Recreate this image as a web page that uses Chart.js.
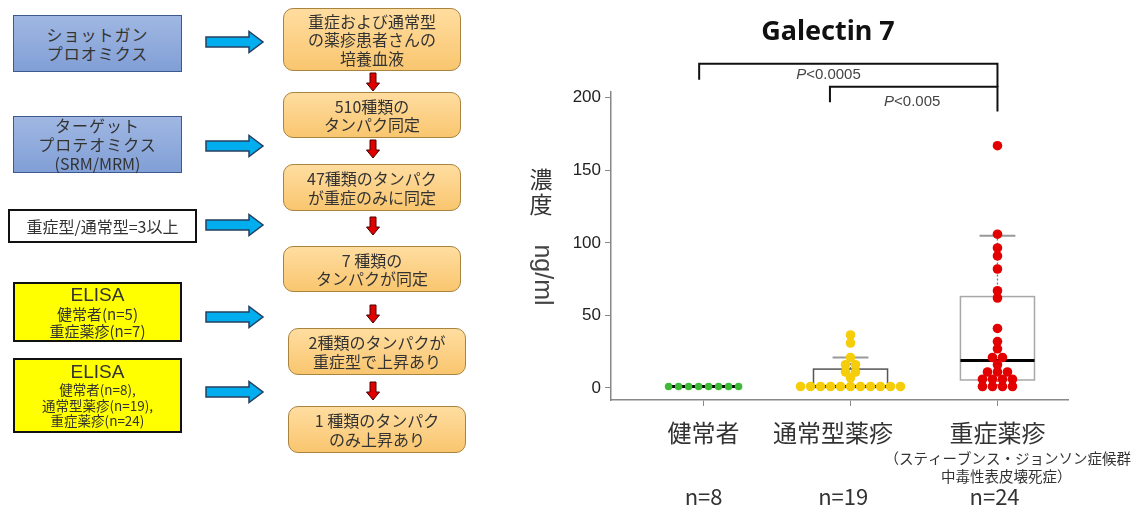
<!DOCTYPE html>
<html>
<head>
<meta charset="utf-8">
<script src="https://cdn.jsdelivr.net/npm/chart.js@4.4.1/dist/chart.umd.min.js"></script>
<style>
    body { margin: 0; background: #fff; width: 1134px; height: 509px; overflow: hidden; position: relative; font-family: 'Noto Sans CJK JP', sans-serif; }
    #myChart { position: absolute; left: 0; top: 0; }
    #arrows { position: absolute; left: 0; top: 0; z-index: 2; }
    .box { position: absolute; box-sizing: border-box; display: flex; flex-direction: column; align-items: center; justify-content: center; text-align: center; color: #333; white-space: nowrap; z-index: 3; }
    .blue { background: linear-gradient(#a0b7e2, #819fd6); border: 1.5px solid #3c5a8e; font-size: 16px; line-height: 19px; letter-spacing: 1px; }
    .orange { background: linear-gradient(#ffdda0, #f9c66f); border: 1.5px solid #a9843f; border-radius: 10px; font-size: 16px; line-height: 18.5px; }
    .white { background: #fff; border: 2px solid #111; font-size: 16px; }
    .yellow { background: #ffff00; border: 2px solid #111; }
    .elisa { font-family: 'Liberation Sans', sans-serif; font-size: 19px; line-height: 20px; }
</style>
</head>
<body>
<canvas id="myChart" width="1134" height="509"></canvas>

<!-- left flow chart -->
<div class="box blue" style="left:13px;top:15px;width:169px;height:57px;">ショットガン<br>プロオミクス</div>
<div class="box blue" style="left:13px;top:116px;width:169px;height:57px;">ターゲット<br>プロテオミクス<br><span style="letter-spacing:0">(SRM/MRM)</span></div>
<div class="box white" style="left:8px;top:209px;width:189px;height:34px;">重症型/通常型=3以上</div>
<div class="box yellow" style="left:13px;top:282px;width:169px;height:60px;font-size:15px;line-height:17px;"><span class="elisa">ELISA</span>健常者(n=5)<br>重症薬疹(n=7)</div>
<div class="box yellow" style="left:13px;top:358px;width:169px;height:75px;font-size:13.5px;line-height:15.5px;"><span class="elisa">ELISA</span>健常者(n=8),<br>通常型薬疹(n=19),<br>重症薬疹(n=24)</div>

<div class="box orange" style="left:283px;top:8px;width:178px;height:63px;">重症および通常型<br>の薬疹患者さんの<br>培養血液</div>
<div class="box orange" style="left:283px;top:92px;width:178px;height:46px;">510種類の<br>タンパク同定</div>
<div class="box orange" style="left:283px;top:164px;width:178px;height:47px;">47種類のタンパク<br>が重症のみに同定</div>
<div class="box orange" style="left:283px;top:246px;width:178px;height:46px;">7 種類の<br>タンパクが同定</div>
<div class="box orange" style="left:288px;top:328px;width:178px;height:47px;">2種類のタンパクが<br>重症型で上昇あり</div>
<div class="box orange" style="left:288px;top:406px;width:178px;height:47px;">1 種類のタンパク<br>のみ上昇あり</div>

<svg id="arrows" width="480" height="509"></svg>

<script>
    // ---- data ----
    const categories = ['健常者', '通常型薬疹', '重症薬疹'];
    const subLabel = ['（スティーブンス・ジョンソン症候群', '中毒性表皮壊死症）'];
    const nLabels = ['n=8', 'n=19', 'n=24'];

    const healthy = [1, 1, 1, 1, 1, 1, 1, 1];
    const normalRash = [36.5, 31, 21, 16, 16, 11, 11, 7, 1, 1, 1, 1, 1, 1, 1, 1, 1, 1, 1];
    const severeRash = [167, 106, 96.5, 91, 82, 67, 62, 41, 32, 27, 21, 21, 16, 11, 11, 11, 6, 6, 6, 6, 1, 1, 1, 1];

    const boxQ1 = [1, 1, 5.5];
    const boxMedian = [1, 1, 19];
    const boxQ3 = [1, 13, 63];
    const whiskerLow = [1, 1, 1];
    const whiskerHigh = [1, 21, 105];

    const yTicks = [0, 50, 100, 150, 200];
    const pValues = ['0.0005', '0.005'];

    // ---- arrows of the flow chart ----
    const svg = document.getElementById('arrows');
    const blueArrowY = [42, 146, 225, 317, 392];
    const redArrowTop = [73, 140, 217, 305, 382];
    let shapes = '';
    blueArrowY.forEach(c => {
        shapes += `<polygon points="206,${c - 5} 249,${c - 5} 249,${c - 10.5} 263,${c} 249,${c + 10.5} 249,${c + 5} 206,${c + 5}" fill="#00aeef" stroke="#24405e" stroke-width="1.5"/>`;
    });
    redArrowTop.forEach(t => {
        const x = 373;
        shapes += `<polygon points="${x - 3},${t} ${x + 3},${t} ${x + 3},${t + 10} ${x + 6.5},${t + 10} ${x},${t + 18} ${x - 6.5},${t + 10} ${x - 3},${t + 10}" fill="#e00000" stroke="#4a0000" stroke-width="1"/>`;
    });
    svg.innerHTML = shapes;

    // beeswarm: same values side by side
    function swarm(values, pos) {
        const rows = {};
        values.forEach(v => { (rows[v] = rows[v] || []).push(v); });
        const pts = [];
        Object.values(rows).forEach(r => {
            r.forEach((v, i) => pts.push({ x: pos + (i - (r.length - 1) / 2) * 0.068, y: v }));
        });
        return pts;
    }

    const boxPlugin = {
        id: 'boxPlugin',
        beforeDatasetsDraw(chart) {
            const ctx = chart.ctx;
            const xs = chart.scales.x, ys = chart.scales.y;
            const boxColors = ['#555', '#555', '#a8a8a8'];
            ctx.save();
            for (let i = 0; i < 3; i++) {
                const cx = i + 1;
                const x0 = xs.getPixelForValue(cx - 0.252), x1 = xs.getPixelForValue(cx + 0.252);
                const px = xs.getPixelForValue(cx);
                const yq1 = ys.getPixelForValue(boxQ1[i]), yq3 = ys.getPixelForValue(boxQ3[i]);
                const ymed = ys.getPixelForValue(boxMedian[i]);
                const cap0 = xs.getPixelForValue(cx - 0.122), cap1 = xs.getPixelForValue(cx + 0.122);
                // whiskers
                ctx.strokeStyle = '#777';
                ctx.lineWidth = 1.3;
                if (whiskerHigh[i] > boxQ3[i]) {
                    const yw = ys.getPixelForValue(whiskerHigh[i]);
                    ctx.setLineDash([2, 2]);
                    ctx.beginPath(); ctx.moveTo(px, yq3); ctx.lineTo(px, yw); ctx.stroke();
                    ctx.setLineDash([]);
                    ctx.strokeStyle = '#999';
                    ctx.lineWidth = 2;
                    ctx.beginPath(); ctx.moveTo(cap0, yw); ctx.lineTo(cap1, yw); ctx.stroke();
                }
                if (whiskerLow[i] < boxQ1[i]) {
                    const yw = ys.getPixelForValue(whiskerLow[i]);
                    ctx.strokeStyle = '#777';
                    ctx.lineWidth = 1.3;
                    ctx.setLineDash([2, 2]);
                    ctx.beginPath(); ctx.moveTo(px, yq1); ctx.lineTo(px, yw); ctx.stroke();
                    ctx.setLineDash([]);
                }
                // box
                if (boxQ3[i] > boxQ1[i]) {
                    ctx.strokeStyle = boxColors[i];
                    ctx.lineWidth = 1.5;
                    ctx.strokeRect(x0, yq3, x1 - x0, yq1 - yq3);
                }
                // median
                ctx.strokeStyle = '#000';
                ctx.lineWidth = 3;
                ctx.beginPath(); ctx.moveTo(x0, ymed); ctx.lineTo(x1, ymed); ctx.stroke();
            }
            ctx.restore();
        },
        afterDraw(chart) {
            const ctx = chart.ctx;
            const xs = chart.scales.x, ys = chart.scales.y;
            ctx.save();
            // title
            ctx.fillStyle = '#111';
            ctx.textAlign = 'center';
            ctx.textBaseline = 'middle';
            ctx.font = 'bold 27px "Noto Sans", sans-serif';
            ctx.fillText('Galectin 7', 828, 32);

            // significance brackets
            const brackets = [
                { x0: 0.97, x1: 3.0, top: 223.4, l: 212.4, r: 207.5, label: 1.85, ly: 215.5, p: pValues[0] },
                { x0: 1.86, x1: 3.0, top: 207.6, l: 197, r: 190.5, label: 2.42, ly: 197.5, p: pValues[1] }
            ];
            ctx.strokeStyle = '#111';
            ctx.lineWidth = 2;
            brackets.forEach(b => {
                const a = xs.getPixelForValue(b.x0), c = xs.getPixelForValue(b.x1);
                const t = ys.getPixelForValue(b.top);
                ctx.beginPath();
                ctx.moveTo(a, ys.getPixelForValue(b.l));
                ctx.lineTo(a, t);
                ctx.lineTo(c, t);
                ctx.lineTo(c, ys.getPixelForValue(b.r));
                ctx.stroke();
                // P label with italic P
                const lx = xs.getPixelForValue(b.label), ly = ys.getPixelForValue(b.ly);
                ctx.font = 'italic 15px "Liberation Sans", sans-serif';
                const w1 = ctx.measureText('P').width;
                ctx.font = '15px "Liberation Sans", sans-serif';
                const rest = '<' + b.p;
                const w2 = ctx.measureText(rest).width;
                const start = lx - (w1 + w2) / 2;
                ctx.fillStyle = '#444';
                ctx.textAlign = 'left';
                ctx.font = 'italic 15px "Liberation Sans", sans-serif';
                ctx.fillText('P', start, ly);
                ctx.font = '15px "Liberation Sans", sans-serif';
                ctx.fillText(rest, start + w1, ly);
            });

            // y axis title
            ctx.fillStyle = '#333';
            ctx.textAlign = 'center';
            ctx.font = '23px "Noto Sans CJK JP", sans-serif';
            ctx.fillText('濃', 541, 179);
            ctx.fillText('度', 541, 204);
            ctx.save();
            ctx.translate(542, 275);
            ctx.rotate(Math.PI / 2);
            ctx.font = '25px "Liberation Sans", sans-serif';
            ctx.fillStyle = '#444';
            ctx.fillText('ng/ml', 0, 0);
            ctx.restore();

            // category labels
            const labelX = [1.0, 1.88, 3.0];
            const nX = [1.0, 1.95, 2.98];
            ctx.fillStyle = '#333';
            ctx.font = '24px "Noto Sans CJK JP", sans-serif';
            categories.forEach((c, i) => ctx.fillText(c, xs.getPixelForValue(labelX[i]), 433));
            ctx.font = '14.5px "Noto Sans CJK JP", sans-serif';
            ctx.fillText(subLabel[0], xs.getPixelForValue(3.07), 458);
            ctx.fillText(subLabel[1], xs.getPixelForValue(3.06), 476);
            ctx.font = '22px "Noto Sans CJK JP", sans-serif';
            nLabels.forEach((n, i) => ctx.fillText(n, xs.getPixelForValue(nX[i]), 497));
            ctx.restore();
        }
    };

    const ctx = document.getElementById('myChart');
    const myChart = new Chart(ctx, {
        type: 'scatter',
        data: {
            datasets: [
                { data: swarm(healthy, 1), backgroundColor: '#3dbb36', pointRadius: 3.8 },
                { data: swarm(normalRash, 2), backgroundColor: '#f6cd0a' },
                { data: swarm(severeRash, 3), backgroundColor: '#e30000' }
            ]
        },
        options: {
            responsive: false,
            animation: false,
            layout: {
                padding: { top: 92, right: 66, bottom: 0, left: 0 }
            },
            elements: {
                point: { radius: 4.8, borderWidth: 0, hoverRadius: 4.8 }
            },
            scales: {
                x: {
                    type: 'linear',
                    min: 0.37,
                    max: 3.48,
                    afterBuildTicks: (s) => { s.ticks = [1, 2, 3].map(v => ({ value: v })); },
                    afterFit: (s) => { s.height = 109; },
                    ticks: { display: false },
                    grid: { drawOnChartArea: false, color: '#888', tickLength: 6 },
                    border: { color: '#888', width: 1.5 }
                },
                y: {
                    min: -8.3,
                    max: 204,
                    afterBuildTicks: (s) => { s.ticks = yTicks.map(v => ({ value: v })); },
                    afterFit: (s) => { s.width = 611; },
                    ticks: {
                        color: '#222',
                        padding: 4,
                        font: { family: 'Liberation Sans', size: 17 }
                    },
                    grid: { drawOnChartArea: false, color: '#888', tickLength: 6 },
                    border: { color: '#888', width: 1.5 }
                }
            },
            plugins: {
                legend: { display: false },
                tooltip: { enabled: false }
            }
        },
        plugins: [boxPlugin]
    });
</script>
</body>
</html>
